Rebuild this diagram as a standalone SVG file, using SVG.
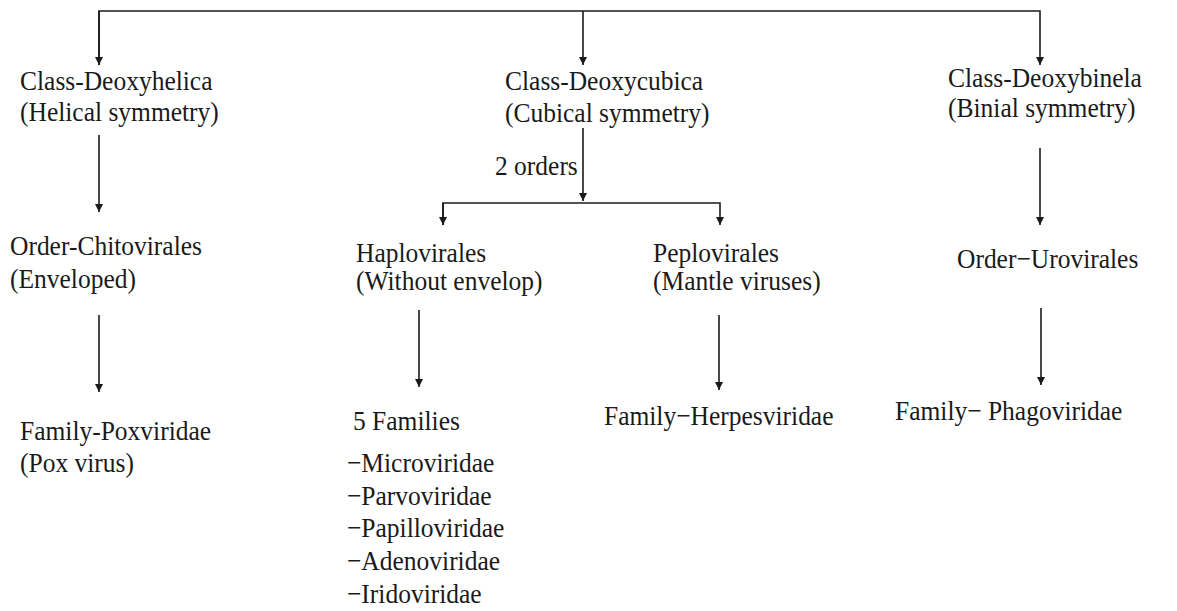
<svg xmlns="http://www.w3.org/2000/svg" width="1177" height="611" viewBox="0 0 1177 611">
<style>
.t text{font-family:'Liberation Serif','Times New Roman','DejaVu Serif',serif;font-size:25.5px;fill:#1a1a1a}
.c{stroke:#1a1a1a;stroke-width:1.6;fill:none}
</style>
<defs>
<marker id="ah" viewBox="0 0 10 10" refX="10" refY="5" markerWidth="8" markerHeight="8" markerUnits="userSpaceOnUse" orient="auto">
<path d="M0,0 L10,5 L0,10 z" fill="#1a1a1a"/>
</marker>
</defs>
<rect width="1177" height="611" fill="#fff"/>
<g id="connectors">
<path class="c" d="M99,65 V11 H1040 V65" marker-end="url(#ah)"/>
<path class="c" d="M99,11 V65" marker-end="url(#ah)"/>
<path class="c" d="M583,11 V65" marker-end="url(#ah)"/>
<path class="c" d="M99,135 V212" marker-end="url(#ah)"/>
<path class="c" d="M99,315 V392" marker-end="url(#ah)"/>
<path class="c" d="M583,128 V201" marker-end="url(#ah)"/>
<path class="c" d="M443,225 V203 H720 V225" marker-end="url(#ah)"/>
<path class="c" d="M443,203 V225" marker-end="url(#ah)"/>
<path class="c" d="M419,310 V387" marker-end="url(#ah)"/>
<path class="c" d="M719,315 V390" marker-end="url(#ah)"/>
<path class="c" d="M1040,148 V225" marker-end="url(#ah)"/>
<path class="c" d="M1041,308 V385" marker-end="url(#ah)"/>
</g>
<g class="t" font-family="Liberation Serif, DejaVu Serif, serif" transform="scale(1,1.07)">
<g id="deoxyhelica"><text x="20" y="84.1">Class-Deoxyhelica</text><text x="20" y="113.1">(Helical symmetry)</text></g>
<g id="deoxycubica"><text x="505" y="84.1">Class-Deoxycubica</text><text x="505" y="114">(Cubical symmetry)</text></g>
<g id="deoxybinela"><text x="948" y="81.3">Class-Deoxybinela</text><text x="948" y="109.3">(Binial symmetry)</text></g>
<g id="two-orders"><text x="495" y="163.6">2 orders</text></g>
<g id="chitovirales"><text x="10" y="238.3">Order-Chitovirales</text><text x="10" y="269.2">(Enveloped)</text></g>
<g id="haplovirales"><text x="356" y="244.9">Haplovirales</text><text x="356" y="271">(Without envelop)</text></g>
<g id="peplovirales"><text x="653" y="244.9">Peplovirales</text><text x="653" y="271">(Mantle viruses)</text></g>
<g id="urovirales"><text x="957" y="250.5">Order−Urovirales</text></g>
<g id="poxviridae"><text x="20" y="411.2">Family-Poxviridae</text><text x="20" y="441.1">(Pox virus)</text></g>
<g id="five-families"><text x="353" y="401.9">5 Families</text>
<text x="347" y="441.1">−Microviridae</text>
<text x="347" y="472">−Parvoviridae</text>
<text x="347" y="501.9">−Papilloviridae</text>
<text x="347" y="532.7">−Adenoviridae</text>
<text x="347" y="563.6">−Iridoviridae</text></g>
<g id="herpesviridae"><text x="604" y="397.2">Family−Herpesviridae</text></g>
<g id="phagoviridae"><text x="895" y="392.5">Family− Phagoviridae</text></g>
</g>
</svg>
